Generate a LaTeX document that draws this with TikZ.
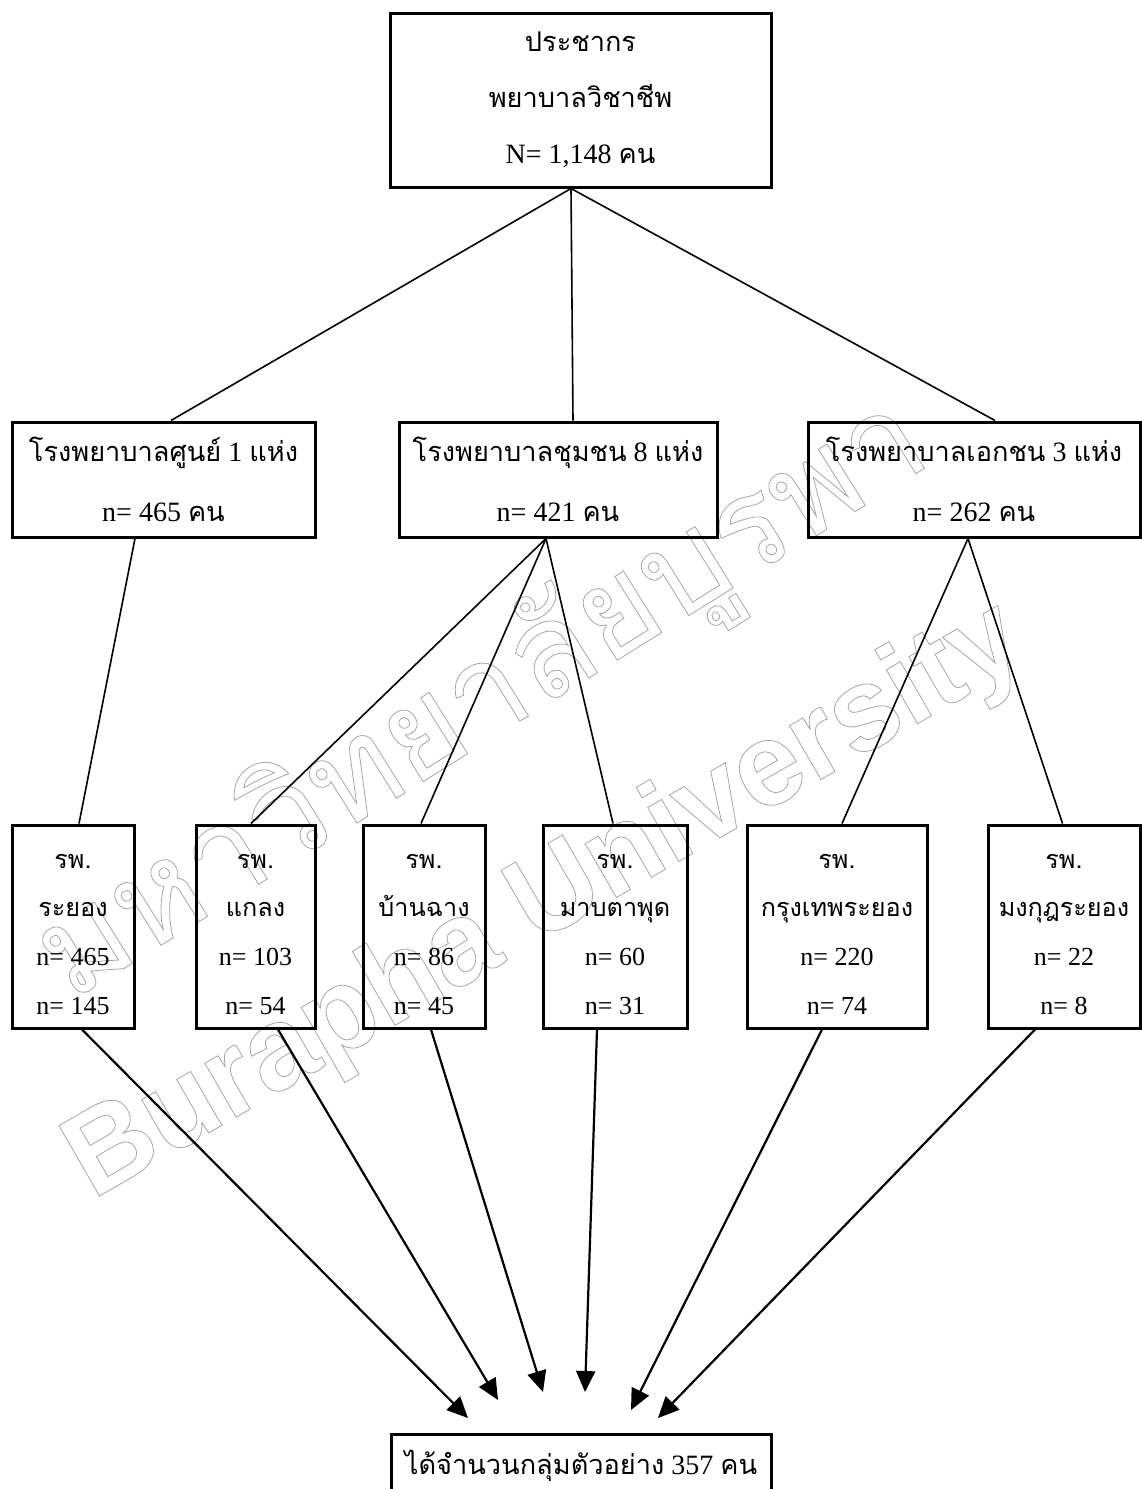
\documentclass[tikz,border=0pt]{standalone}
\usepackage{fontspec}
\setmainfont{Liberation Serif}
\newfontfamily\thaifont[Script=Thai,Scale=0.97]{Loma}
\newfontfamily\wmthai[Script=Thai]{Loma}
\newfontfamily\wmfont{Liberation Sans}
\newcommand{\tht}[1]{{\thaifont #1}}
\newcommand{\outl}[1]{\special{pdf:literal direct 1 Tr 0.4 w}#1\special{pdf:literal direct 0 Tr}}
\newcommand{\lowtxt}[4]{\raisebox{-2.5pt}[\height][\depth]{\begin{tabular}{@{}c@{}}#1\\ #2\\ #3\\ #4\end{tabular}}}
\usetikzlibrary{arrows.meta}
\begin{document}
\begin{tikzpicture}[x=0.5pt,y=-0.5pt,
  box/.style={draw,line width=1.5pt,inner sep=0pt,align=center},
  topfont/.style={font=\fontsize{14}{28}\selectfont},
  midfont/.style={font=\fontsize{14}{30}\selectfont},
  lowfont/.style={font=\fontsize{13}{24.3}\selectfont},
  link/.style={line width=0.8pt},
  arr/.style={line width=1.1pt,-{Triangle[length=10.5pt,width=9.5pt]}},
  wm/.style={text=black!35,inner sep=0pt}
]
\useasboundingbox (0,0) rectangle (1141,1489);

% watermark
\node[wm,rotate=32,font=\wmthai\fontsize{65}{66}\selectfont] (wm1) at (484,702) {\outl{มหาวิทยาลัยบูรพา}};
\node[wm,rotate=30,font=\wmfont\bfseries\fontsize{59}{60}\selectfont] (wm2) at (546,903) {\outl{Burapha University}};

% top
\node[box,topfont,minimum width=190.5pt,minimum height=87pt] (top) at (580.5,100)
  {\tht{ประชากร}\\ \tht{พยาบาลวิชาชีพ}\\ N= 1,148 \tht{คน}};

% middle
\node[box,midfont,minimum width=151.5pt,minimum height=57.5pt] (m1) at (163.5,479.5)
  {\tht{โรงพยาบาลศูนย์} 1 \tht{แห่ง}\\ n= 465 \tht{คน}};
\node[box,midfont,minimum width=159pt,minimum height=57.5pt] (m2) at (558,479.5)
  {\tht{โรงพยาบาลชุมชน} 8 \tht{แห่ง}\\ n= 421 \tht{คน}};
\node[box,midfont,minimum width=166pt,minimum height=57.5pt] (m3) at (974,479.5)
  {\tht{โรงพยาบาลเอกชน} 3 \tht{แห่ง}\\ n= 262 \tht{คน}};

% bottom
\node[box,lowfont,minimum width=61pt,minimum height=101.5pt] (bA) at (73,926.5)
  {\lowtxt{\tht{รพ.}}{\tht{ระยอง}}{n= 465}{n= 145}};
\node[box,lowfont,minimum width=59.5pt,minimum height=101.5pt] (bB) at (255.5,926.5)
  {\lowtxt{\tht{รพ.}}{\tht{แกลง}}{n= 103}{n= 54}};
\node[box,lowfont,minimum width=61pt,minimum height=101.5pt] (bC) at (424,926.5)
  {\lowtxt{\tht{รพ.}}{\tht{บ้านฉาง}}{n= 86}{n= 45}};
\node[box,lowfont,minimum width=72pt,minimum height=101.5pt] (bD) at (615,926.5)
  {\lowtxt{\tht{รพ.}}{\tht{มาบตาพุด}}{n= 60}{n= 31}};
\node[box,lowfont,minimum width=90pt,minimum height=101.5pt] (bE) at (837,926.5)
  {\lowtxt{\tht{รพ.}}{\tht{กรุงเทพระยอง}}{n= 220}{n= 74}};
\node[box,lowfont,minimum width=76pt,minimum height=101.5pt] (bF) at (1064,926.5)
  {\lowtxt{\tht{รพ.}}{\tht{มงกุฎระยอง}}{n= 22}{n= 8}};

% final
\node[box,midfont,minimum width=190pt,minimum height=40pt] (fin) at (581,1474)
  {\raisebox{4pt}[\height][\depth]{\tht{ได้จำนวนกลุ่มตัวอย่าง} 357 \tht{คน}}};

% top -> middle
\draw[link] ([xshift=-4.75pt]top.south) -- ([xshift=3.75pt]m1.north);
\draw[link] ([xshift=-4.75pt]top.south) -- ([xshift=7.5pt]m2.north);
\draw[link] ([xshift=-4.75pt]top.south) -- ([xshift=10.5pt]m3.north);

% middle -> bottom
\draw[link] ([xshift=-14.25pt]m1.south) -- ([xshift=3pt]bA.north);
\draw[link] ([xshift=-6pt]m2.south) -- ([xshift=-2.25pt]bB.north);
\draw[link] ([xshift=-6pt]m2.south) -- ([xshift=-1.5pt]bC.north);
\draw[link] ([xshift=-6pt]m2.south) -- ([xshift=-1pt]bD.north);
\draw[link] ([xshift=-3pt]m3.south) -- ([xshift=2.5pt]bE.north);
\draw[link] ([xshift=-3pt]m3.south) -- ([xshift=-0.75pt]bF.north);

% arrow tips
\coordinate (tA) at (468,1418);
\coordinate (tB) at (498,1400);
\coordinate (tC) at (543,1392);
\coordinate (tD) at (585,1392);
\coordinate (tE) at (631,1410);
\coordinate (tF) at (658,1418);

\draw[arr] ([xshift=4.5pt]bA.south) -- (tA);
\draw[arr] ([xshift=11.25pt]bB.south) -- (tB);
\draw[arr] ([xshift=3.5pt]bC.south) -- (tC);
\draw[arr] ([xshift=-9pt]bD.south) -- (tD);
\draw[arr] ([xshift=-7.5pt]bE.south) -- (tE);
\draw[arr] ([xshift=-14.5pt]bF.south) -- (tF);
\end{tikzpicture}
\end{document}
